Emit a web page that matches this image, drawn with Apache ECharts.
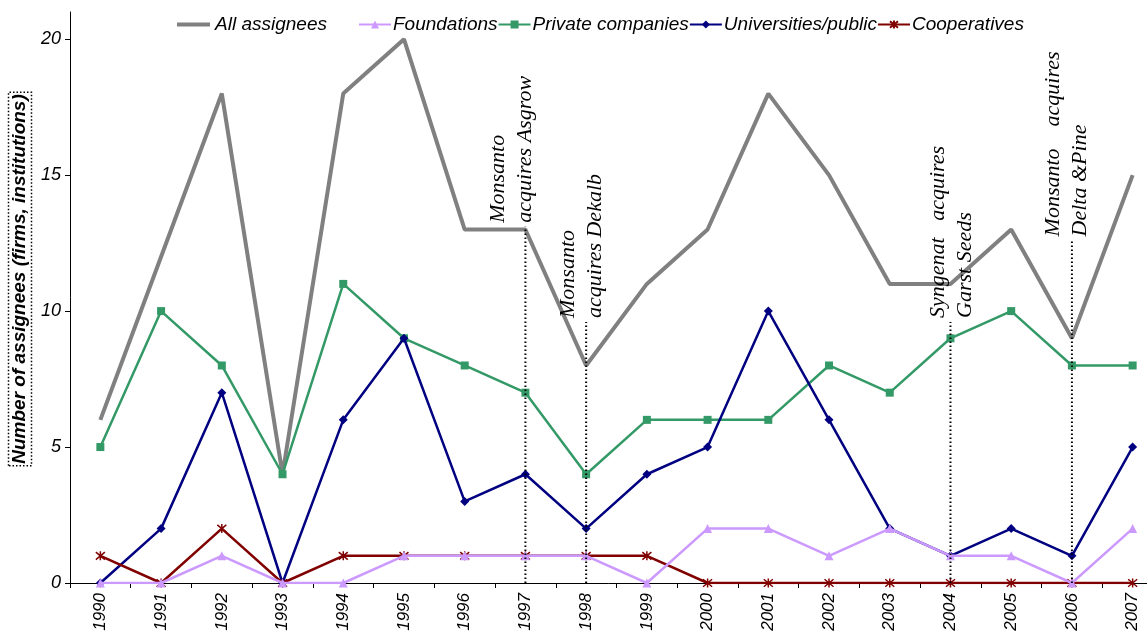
<!DOCTYPE html>
<html><head><meta charset="utf-8">
<script src="https://cdn.jsdelivr.net/npm/echarts@6/dist/echarts.min.js"></script>
<style>html,body{margin:0;padding:0;background:#fff}#c{width:1147px;height:634px}</style>
</head><body><div id="c"></div>
<script>
const years = ['1990','1991','1992','1993','1994','1995','1996','1997','1998','1999','2000','2001','2002','2003','2004','2005','2006','2007'];
const allAssignees = [6,12,18,4,18,20,13,13,8,11,13,18,15,11,11,13,9,15];
const foundations = [0,0,1,0,0,1,1,1,1,0,2,2,1,2,1,1,0,2];
const privateCompanies = [5,10,8,4,11,9,8,7,4,6,6,6,8,7,9,10,8,8];
const universities = [0,2,7,0,6,9,3,4,2,4,5,10,6,2,1,2,1,5];
const cooperatives = [1,0,2,0,1,1,1,1,1,1,0,0,0,0,0,0,0,0];
const yTicks = [0,5,10,15,20];
// annotations: year, text, top of dotted line (value)
const annYears = ['1997','1998','2004','2006'];
const annTexts = ['Monsanto\nacquires Asgrow','Monsanto\nacquires Dekalb','Syngenat   acquires\nGarst Seeds','Monsanto    acquires\nDelta &Pine'];
const annTops = [13.1, 9.6, 9.6, 12.6];
const annDx = [-14, -4, 1, -5];

const chart = echarts.init(document.getElementById('c'));
const sans = "'Liberation Sans', Arial, sans-serif";
const asterisk = 'path://M0,0L10,10M10,0L0,10M5,-1L5,11';
const legendText = {fontFamily: sans, fontStyle: 'italic', fontSize: 19, color: '#000', padding: [0, 0, 0, -3]};
chart.setOption({
  animation: false,
  grid: {left: 70, right: -16, top: 12, bottom: 51, outerBoundsMode: 'none'},
  legend: [
    {top: 10, left: 172, itemWidth: 33, itemHeight: 10, itemGap: 0, textStyle: Object.assign({}, legendText, {padding: 0}),
     data: [{name: 'All assignees', icon: 'path://M0,0L33,0L33,4L0,4Z', itemStyle: {color: '#808080'}}]},
    {top: 10, left: 353, itemWidth: 32, itemHeight: 10, itemGap: 0, textStyle: legendText,
     data: ['Foundations','Private companies','Universities/public','Cooperatives']}
  ],
  xAxis: {
    type: 'category', data: years, boundaryGap: true,
    axisLine: {lineStyle: {color: '#000', width: 1}},
    axisTick: {show: true, length: 5, lineStyle: {color: '#000'}},
    axisLabel: {rotate: 90, fontFamily: sans, fontStyle: 'italic', fontSize: 17, color: '#000', margin: 10, interval: 0}
  },
  yAxis: {
    type: 'value', min: 0, max: 21, interval: 5,
    splitLine: {show: false},
    axisLine: {show: true, lineStyle: {color: '#000', width: 1}},
    axisTick: {show: true, length: 5, lineStyle: {color: '#000'}, customValues: yTicks},
    axisLabel: {fontFamily: sans, fontStyle: 'italic', fontSize: 18, color: '#000', margin: 9, customValues: yTicks}
  },
  series: [
    {name: 'All assignees', type: 'line', data: allAssignees, showSymbol: false, symbol: 'none',
     lineStyle: {color: '#808080', width: 4}, itemStyle: {color: '#808080'}, z: 2},
    {name: 'Private companies', type: 'line', data: privateCompanies, symbol: 'rect', symbolSize: 8,
     lineStyle: {color: '#339966', width: 2.5}, itemStyle: {color: '#339966'}, z: 3},
    {name: 'Universities/public', type: 'line', data: universities, symbol: 'diamond', symbolSize: 9,
     lineStyle: {color: '#000080', width: 2.5}, itemStyle: {color: '#000080'}, z: 4},
    {name: 'Cooperatives', type: 'line', data: cooperatives, symbol: asterisk, symbolSize: 9,
     lineStyle: {color: '#800000', width: 2.5}, itemStyle: {color: '#800000', borderColor: '#800000', borderWidth: 1.5}, z: 5},
    {name: 'Foundations', type: 'line', data: foundations, symbol: 'triangle', symbolSize: 9,
     lineStyle: {color: '#CC99FF', width: 2.5}, itemStyle: {color: '#CC99FF'}, z: 6}
  ]
});

const g = [];
annYears.forEach((yr, i) => {
  const base = chart.convertToPixel({xAxisIndex: 0, yAxisIndex: 0}, [yr, 0]);
  const top = chart.convertToPixel({xAxisIndex: 0, yAxisIndex: 0}, [yr, annTops[i]]);
  g.push({type: 'line', z: 10, shape: {x1: base[0], y1: base[1], x2: top[0], y2: top[1]},
    style: {stroke: '#000', lineWidth: 2, lineDash: [1.5, 2.5]}});
  g.push({type: 'text', z: 10, x: base[0] + annDx[i], y: top[1] - 4, rotation: Math.PI / 2,
    style: {text: annTexts[i], fill: '#000', font: "italic 22px 'Liberation Serif', 'Times New Roman', serif",
      align: 'left', verticalAlign: 'middle', lineHeight: 27}});
});
g.push({type: 'text', x: 20, y: 279, rotation: Math.PI / 2,
  style: {text: 'Number of assignees (firms, institutions)', fill: '#000',
    font: "italic bold 19px 'Liberation Sans', Arial, sans-serif", align: 'center', verticalAlign: 'middle',
    borderColor: '#000', borderWidth: 1.5, borderDash: [1.5, 2], padding: [3, 2, 1, 2]}});
chart.setOption({graphic: g});
</script>
</body></html>
